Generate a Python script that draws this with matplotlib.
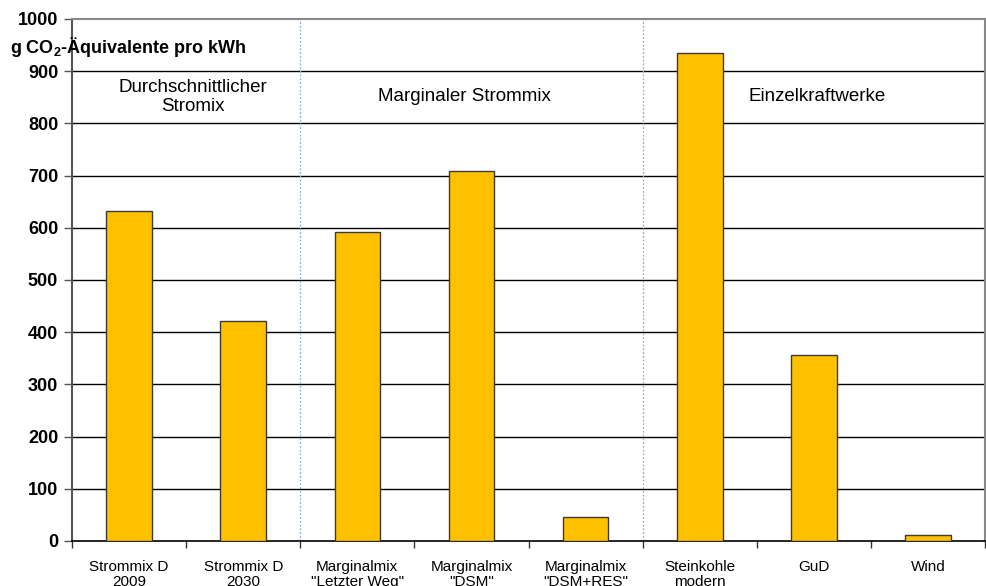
import matplotlib
matplotlib.use("Agg")

import matplotlib.pyplot as plt

plt.rcParams["font.family"] = ["Liberation Sans", "DejaVu Sans"]
plt.rcParams["mathtext.fontset"] = "custom"
plt.rcParams["mathtext.rm"] = "Liberation Sans"
plt.rcParams["mathtext.bf"] = "Liberation Sans:bold"

# ── Data ──────────────────────────────────────────────────────────────────────
categories = [
    "Strommix D\n2009",
    "Strommix D\n2030",
    "Marginalmix\n\"Letzter Weg\"",
    "Marginalmix\n\"DSM\"",
    "Marginalmix\n\"DSM+RES\"",
    "Steinkohle\nmodern",
    "GuD",
    "Wind",
]
emissions = [633, 421, 592, 709, 46, 935, 356, 12]

group_labels = ["Durchschnittlicher\nStromix", "Marginaler Strommix", "Einzelkraftwerke"]
group_centers = [0.56, 2.94, 6.03]  # category index of each group label
group_splits = [1.5, 4.5]           # dotted separators between groups
y_ticks = list(range(0, 1001, 100))

BAR_COLOR = "#FFC000"

fig = plt.figure(figsize=(9.87, 5.86), dpi=100)
ax = fig.add_axes([0.073, 0.0768, 0.925, 0.8908])

x = list(range(len(categories)))
ax.bar(x, emissions, width=0.40, color=BAR_COLOR, edgecolor="#3a3a3a",
       linewidth=1.0, zorder=3)

# horizontal grid
for v in y_ticks[1:-1]:
    ax.axhline(v, color="black", linewidth=1.0, zorder=1)

for s in group_splits:
    ax.axvline(s, color="#8FAAD8", linewidth=0.9, linestyle=(0, (1.5, 1.5)), zorder=2)

for cx, lbl in zip(group_centers, group_labels):
    ax.text(cx, 851, lbl, ha="center", va="center", fontsize=13.5,
            linespacing=1.15, zorder=4)

ax.set_xlim(-0.5, len(categories) - 0.5)
ax.set_ylim(0, 1000)
ax.set_yticks(y_ticks)
ax.set_yticklabels([str(v) for v in y_ticks], fontsize=13, fontweight="bold")
ax.tick_params(axis="y", length=6, width=1.0, color="#555555", pad=4)

ax.set_xticks(x)
ax.set_xticklabels(categories, fontsize=11, linespacing=1.05)
ax.tick_params(axis="x", which="major", length=0, pad=14)
ax.set_xticks([i + 0.5 for i in range(-1, len(categories))], minor=True)
ax.tick_params(axis="x", which="minor", length=5, width=1.0, color="#333333")

ax.spines["left"].set_color("#555555")
ax.spines["left"].set_linewidth(1.5)
ax.spines["bottom"].set_color("black")
ax.spines["bottom"].set_linewidth(1.2)
ax.spines["top"].set_color("#888888")
ax.spines["top"].set_linewidth(1.5)
ax.spines["right"].set_color("#888888")
ax.spines["right"].set_linewidth(1.5)

fig.text(10 / 987, 1 - 47 / 586, r"g CO$_{\mathbf{2}}$-Äquivalente pro kWh",
         ha="left", va="center", fontsize=13, fontweight="bold")

fig.savefig("out.png", dpi=100, facecolor="white")
